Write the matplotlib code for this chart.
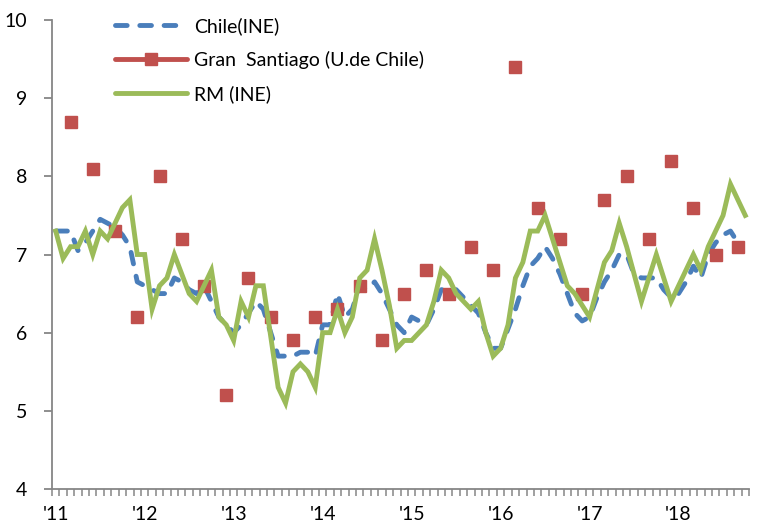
import numpy as np
import matplotlib
matplotlib.use("Agg")
import matplotlib.pyplot as plt
from matplotlib.lines import Line2D

plt.rcParams['font.family'] = ['Lato', 'DejaVu Sans']

# monthly series, Jan 2011 onward
chile_ine = [7.3, 7.3, 7.3, 7.05, 7.15, 7.3, 7.45, 7.4, 7.35, 7.25, 7.1, 6.65,
             6.6, 6.55, 6.5, 6.5, 6.7, 6.65, 6.55, 6.5, 6.6, 6.4, 6.2, 6.1,
             6.0, 6.1, 6.25, 6.4, 6.3, 6.0, 5.7, 5.7, 5.7, 5.75, 5.75, 5.7,
             6.1, 6.1, 6.5, 6.2, 6.3, 6.6, 6.55, 6.65, 6.5, 6.3, 6.1, 6.0,
             6.2, 6.15, 6.1, 6.3, 6.55, 6.55, 6.55, 6.45, 6.35, 6.25, 6.0, 5.8,
             5.8, 6.05, 6.3, 6.6, 6.85, 6.95, 7.1, 6.95, 6.75, 6.5, 6.25, 6.15,
             6.2, 6.45, 6.65, 6.8, 7.0, 7.0, 6.75, 6.7, 6.7, 6.7, 6.55, 6.45,
             6.5, 6.65, 6.85, 6.7, 7.0, 7.15, 7.25, 7.3, 7.15]

rm_ine = [7.3, 6.95, 7.1, 7.1, 7.3, 7.0, 7.3, 7.2, 7.4, 7.6, 7.7, 7.0,
          7.0, 6.3, 6.6, 6.7, 7.0, 6.75, 6.5, 6.4, 6.6, 6.8, 6.2, 6.1,
          5.9, 6.4, 6.2, 6.6, 6.6, 5.95, 5.3, 5.1, 5.5, 5.6, 5.5, 5.3,
          6.0, 6.0, 6.3, 6.0, 6.2, 6.7, 6.8, 7.2, 6.8, 6.35, 5.8, 5.9,
          5.9, 6.0, 6.1, 6.4, 6.8, 6.7, 6.5, 6.4, 6.3, 6.4, 6.0, 5.7,
          5.8, 6.1, 6.7, 6.9, 7.3, 7.3, 7.5, 7.2, 6.9, 6.6, 6.5, 6.35,
          6.2, 6.55, 6.9, 7.05, 7.4, 7.1, 6.75, 6.4, 6.7, 7.0, 6.7, 6.4,
          6.6, 6.8, 7.0, 6.8, 7.1, 7.3, 7.5, 7.9, 7.7, 7.5]

# quarterly survey (Mar, Jun, Sep, Dec)
gs_months = list(range(2, 93, 3))
gran_santiago = [8.7, 8.1, 7.3, 6.2, 8.0, 7.2, 6.6, 5.2, 6.7, 6.2, 5.9, 6.2,
                 6.3, 6.6, 5.9, 6.5, 6.8, 6.5, 7.1, 6.8, 9.4, 7.6, 7.2, 6.5,
                 7.7, 8.0, 7.2, 8.2, 7.6, 7.0, 7.1]

year_labels = ["'11", "'12", "'13", "'14", "'15", "'16", "'17", "'18"]

blue = '#4a7ebb'
red = '#c0504d'
green = '#9bbb59'
grey = '#868686'

fig = plt.figure(figsize=(7.57, 5.23), dpi=100)
ax = fig.add_axes([52 / 757, 1 - 489 / 523, 697 / 757, 469 / 523])

ax.plot(np.arange(len(chile_ine)), chile_ine, color=blue, lw=3.5,
        dashes=(2.4, 2.6), dash_capstyle='round', zorder=2)
ax.plot(gs_months, gran_santiago, ls='none', marker='s', ms=8.8,
        color=red, mec=red, zorder=3)
ax.plot(np.arange(len(rm_ine)), rm_ine, color=green, lw=3.5,
        solid_joinstyle='miter', zorder=4)

ax.set_xlim(-0.45, 93.5)
ax.set_ylim(4, 10)
ax.set_yticks(range(4, 11))
ax.set_xticks(np.arange(0, 96, 12)[:len(year_labels)])
ax.set_xticklabels(year_labels)
ax.set_xticks(np.arange(-0.5, 94, 1), minor=True)

for s in ['top', 'right']:
    ax.spines[s].set_visible(False)
for s in ['left', 'bottom']:
    ax.spines[s].set_color(grey)
    ax.spines[s].set_linewidth(1.3)

ax.tick_params(axis='y', length=6, width=1.3, color=grey, labelsize=14, pad=12)
ax.tick_params(axis='x', which='major', length=0, labelsize=14, pad=12)
ax.tick_params(axis='x', which='minor', length=5, width=1.1, color=grey)

handles = [
    Line2D([], [], color=blue, lw=3.5, dashes=(2.4, 2.6), dash_capstyle='round'),
    Line2D([], [], color=red, lw=3.5, marker='s', ms=8.8, solid_capstyle='round'),
    Line2D([], [], color=green, lw=3.5, solid_capstyle='round'),
]
labels = ['Chile(INE)', 'Gran  Santiago (U.de Chile)', 'RM (INE)']
fig.legend(handles, labels, loc='upper left', bbox_to_anchor=(115 / 757, 1 - 17 / 523),
           frameon=False, fontsize=14, handlelength=3.7, handletextpad=0.35,
           labelspacing=0.82, borderpad=0, borderaxespad=0)

fig.savefig('out.png', dpi=100)
